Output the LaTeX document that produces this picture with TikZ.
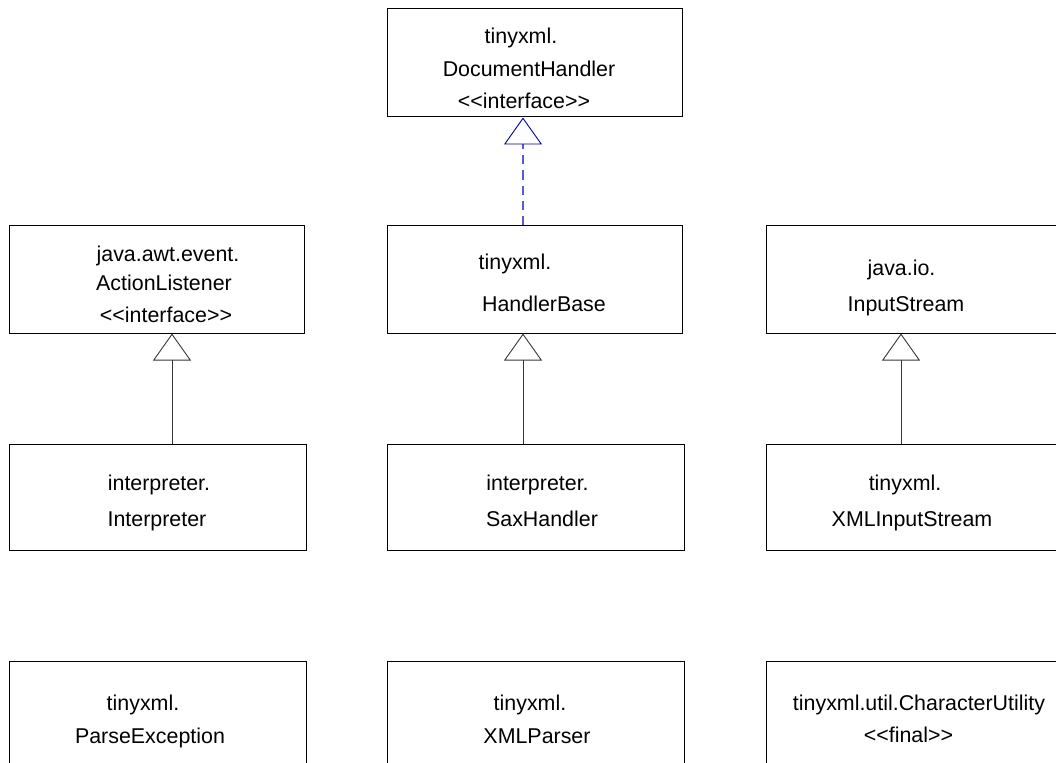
\documentclass[tikz,border=0pt]{standalone}
\usepackage{fontspec}
\setmainfont{Liberation Sans}
\usetikzlibrary{arrows.meta}

\definecolor{realizeline}{RGB}{90,90,205}
\definecolor{realizetip}{RGB}{0,0,153}
\definecolor{inheritline}{RGB}{55,55,55}

\tikzset{
  classbox/.style={draw=black, line width=1pt, rectangle, inner sep=0pt,
                   minimum width=295pt, minimum height=108pt},
  lowbox/.style={classbox, minimum width=297pt, minimum height=106pt},
  nametext/.style={anchor=base, inner sep=0pt, font=\fontsize{21.4}{26}\selectfont},
  extends/.style={draw=inheritline, line width=0.9pt,
                  -{Triangle[open, length=27pt, width=38pt]}},
  realizes/.style={draw=realizeline, line width=1.3pt, dash pattern=on 9pt off 6pt,
                   -{Triangle[open, length=27pt, width=38pt, color=realizetip, line width=0.9pt]}},
}

\begin{document}
\begin{tikzpicture}[x=1pt, y=-1pt]
  \useasboundingbox (0,0) rectangle (1056,762);
  \clip (0,0) rectangle (1056,762);

  % class boxes
  \node[classbox] (dh) at (534.5,63)  {};
  \node[classbox] (al) at (156.5,279) {};
  \node[classbox] (hb) at (534.5,279) {};
  \node[classbox] (is) at (913.5,279) {};
  \node[lowbox]   (ip) at (158,497)   {};
  \node[lowbox]   (sh) at (535.5,497) {};
  \node[lowbox]   (xi) at (914.5,497) {};
  \node[lowbox]   (pe) at (158,714)   {};
  \node[lowbox]   (xp) at (535.5,714) {};
  \node[lowbox]   (cu) at (914.5,714) {};

  % class names
  \node[nametext] (dh-a) at (521,43.3)  {tinyxml.};
  \node[nametext] (dh-b) at (529,76.7)  {DocumentHandler};
  \node[nametext] (dh-c) at (524,108.5) {<{}<interface>{}>};

  \node[nametext] (al-a) at (168,261.7) {java.awt.event.};
  \node[nametext] (al-b) at (164,290.5) {ActionListener};
  \node[nametext] (al-c) at (166,322.5) {<{}<interface>{}>};

  \node[nametext] (hb-a) at (515,269)   {tinyxml.};
  \node[nametext] (hb-b) at (544,311.7) {HandlerBase};

  \node[nametext] (is-a) at (901.5,275) {java.io.};
  \node[nametext] (is-b) at (906,311.7) {InputStream};

  \node[nametext] (ip-a) at (159,490)   {interpreter.};
  \node[nametext] (ip-b) at (157,526.7) {Interpreter};

  \node[nametext] (sh-a) at (537.5,490) {interpreter.};
  \node[nametext] (sh-b) at (542,526.7) {SaxHandler};

  \node[nametext] (xi-a) at (905,490)   {tinyxml.};
  \node[nametext] (xi-b) at (912,526.7) {XMLInputStream};

  \node[nametext] (pe-a) at (143,710.7) {tinyxml.};
  \node[nametext] (pe-b) at (150,743.3) {ParseException};

  \node[nametext] (xp-a) at (530,710.7) {tinyxml.};
  \node[nametext] (xp-b) at (537,743.3) {XMLParser};

  \node[nametext] (cu-a) at (919,710.7) {tinyxml.util.CharacterUtility};
  \node[nametext] (cu-b) at (908.5,742.5) {<{}<final>{}>};

  % columns of the connectors
  \coordinate (colL) at (172,0);
  \coordinate (colM) at (523,0);
  \coordinate (colR) at (901,0);

  % realization and generalization
  \draw[realizes] (hb.north -| colM) -- (dh.south -| colM);
  \draw[extends]  (ip.north -| colL) -- (al.south -| colL);
  \draw[extends]  (sh.north -| colM) -- (hb.south -| colM);
  \draw[extends]  (xi.north -| colR) -- (is.south -| colR);
\end{tikzpicture}
\end{document}
